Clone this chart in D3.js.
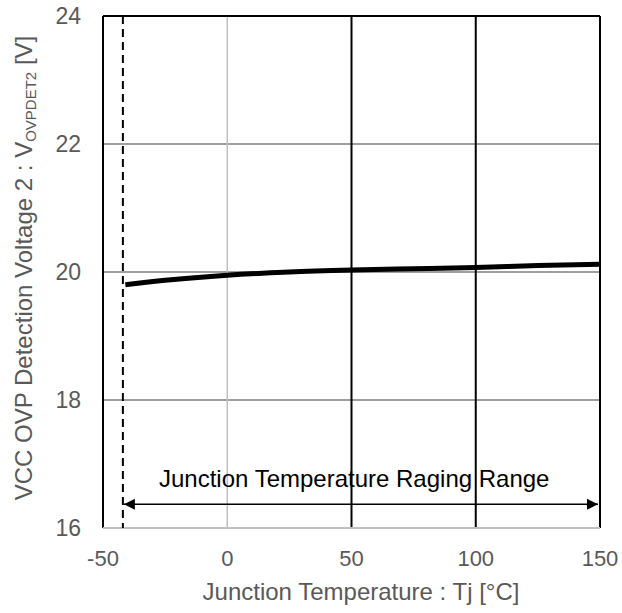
<!DOCTYPE html>
<html>
<head>
<meta charset="utf-8">
<script src="https://cdn.jsdelivr.net/npm/d3@7"></script>
<style>
  body { margin: 0; background: #fff; }
  svg text { font-family: Arial, "Liberation Sans", sans-serif; }
</style>
</head>
<body>
<svg width="622" height="613"></svg>
<script>
// data
var temps = [-41, -25, 0, 25, 50, 75, 100, 125, 150];
var volts = [19.80, 19.87, 19.95, 20.00, 20.03, 20.05, 20.07, 20.10, 20.12];
var xTicks = [-50, 0, 50, 100, 150];
var yTicks = [16, 18, 20, 22, 24];
var rangeStart = -42, rangeEnd = 150;
var rangeLabel = "Junction Temperature Raging Range";

var svg = d3.select("svg");
var margin = {left: 103, right: 22, top: 16, bottom: 85};
var width = 622 - margin.left - margin.right,
    height = 613 - margin.top - margin.bottom;

var x = d3.scaleLinear().domain([-50, 150]).range([margin.left, margin.left + width]);
var y = d3.scaleLinear().domain([16, 24]).range([margin.top + height, margin.top]);

var g = svg.append("g");

// GRID
g.selectAll("line.hgrid")
  .data(yTicks.filter(function(d) { return d > 16 && d < 24; }))
  .enter().append("line")
    .attr("x1", x(-50)).attr("x2", x(150))
    .attr("y1", function(d) { return y(d); })
    .attr("y2", function(d) { return y(d); })
    .attr("stroke", "#7f7f7f").attr("stroke-width", 1.5);

g.selectAll("line.vgrid")
  .data([0, 50, 100])
  .enter().append("line")
    .attr("y1", y(16)).attr("y2", y(24))
    .attr("x1", function(d) { return x(d); })
    .attr("x2", function(d) { return x(d); })
    .attr("stroke", function(d) { return d == 0 ? "#c0c0c0" : "#000"; })
    .attr("stroke-width", function(d) { return d == 0 ? 1.5 : 2; });

// frame
g.append("line").attr("x1", x(-50)).attr("x2", x(150)).attr("y1", y(24)).attr("y2", y(24))
  .attr("stroke", "#000").attr("stroke-width", 2);
g.append("line").attr("x1", x(-50)).attr("x2", x(-50)).attr("y1", y(24)).attr("y2", y(16))
  .attr("stroke", "#000").attr("stroke-width", 2);
g.append("line").attr("x1", x(150)).attr("x2", x(150)).attr("y1", y(24)).attr("y2", y(16))
  .attr("stroke", "#000").attr("stroke-width", 2);
g.append("line").attr("x1", x(-50)).attr("x2", x(150)).attr("y1", y(16)).attr("y2", y(16))
  .attr("stroke", "#c0c0c0").attr("stroke-width", 2);

// dashed line at range start
g.append("line")
  .attr("x1", x(rangeStart)).attr("x2", x(rangeStart))
  .attr("y1", y(24)).attr("y2", y(16))
  .attr("stroke", "#000").attr("stroke-width", 2)
  .attr("stroke-dasharray", "8,5");

// arrow
var defs = svg.append("defs");
defs.append("marker").attr("id", "ah")
    .attr("viewBox", "0 0 10 10").attr("refX", 10).attr("refY", 5)
    .attr("markerWidth", 15).attr("markerHeight", 11)
    .attr("markerUnits", "userSpaceOnUse")
    .attr("orient", "auto-start-reverse")
  .append("path").attr("d", "M0,0L10,5L0,10Z").attr("fill", "#000");

var arrowY = y(16.37);
g.append("line")
  .attr("x1", x(rangeStart) + 1).attr("x2", x(rangeEnd) - 2)
  .attr("y1", arrowY).attr("y2", arrowY)
  .attr("stroke", "#000").attr("stroke-width", 1.5)
  .attr("marker-start", "url(#ah)").attr("marker-end", "url(#ah)");

g.append("text")
  .attr("x", 159).attr("y", arrowY - 17)
  .attr("font-size", 24).attr("fill", "#000")
  .text(rangeLabel);

// CURVE
var line = d3.line()
  .x(function(d, i) { return x(temps[i]); })
  .y(function(d) { return y(d); })
  .curve(d3.curveMonotoneX);

g.append("path")
  .datum(volts)
  .attr("d", line)
  .attr("fill", "none")
  .attr("stroke", "#000")
  .attr("stroke-width", 5);

// TICK LABELS
g.selectAll("text.xt")
  .data(xTicks)
  .enter().append("text")
    .attr("x", function(d) { return x(d); })
    .attr("y", y(16) + 38)
    .attr("text-anchor", "middle")
    .attr("font-size", 22).attr("fill", "#595959")
    .text(function(d) { return d; });

g.selectAll("text.yt")
  .data(yTicks)
  .enter().append("text")
    .attr("x", 81)
    .attr("y", function(d) { return y(d) + 8; })
    .attr("text-anchor", "end")
    .attr("font-size", 23).attr("fill", "#595959")
    .text(function(d) { return d; });

// AXIS TITLES
g.append("text")
  .attr("x", 361).attr("y", 600)
  .attr("text-anchor", "middle")
  .attr("font-size", 24).attr("fill", "#595959")
  .text("Junction Temperature : Tj [°C]");

var yt = g.append("text")
  .attr("transform", "translate(32,268) rotate(-90)")
  .attr("text-anchor", "middle")
  .attr("font-size", 24).attr("fill", "#595959");
yt.append("tspan").text("VCC OVP Detection Voltage 2 : V");
yt.append("tspan").attr("font-size", 15).attr("dy", 4).text("OVPDET2");
yt.append("tspan").attr("dy", -4).text(" [V]");
</script>
</body>
</html>
